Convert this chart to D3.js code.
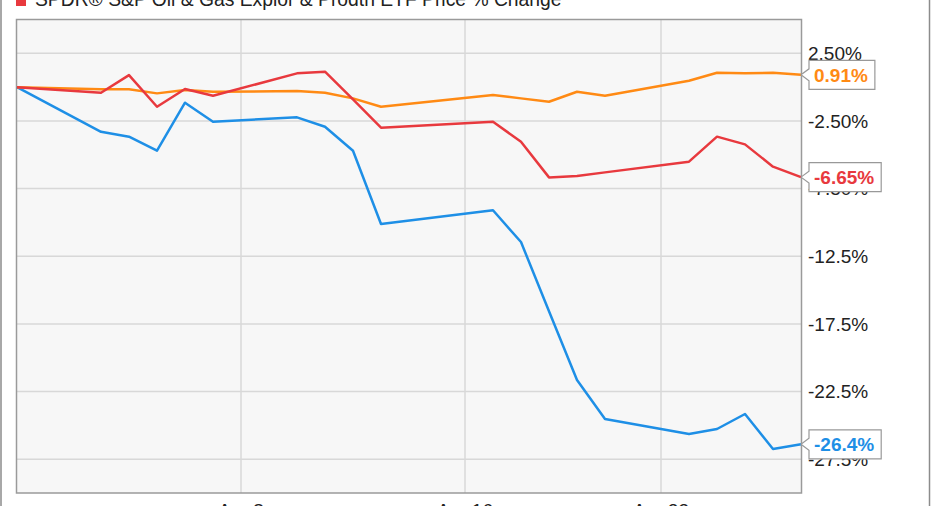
<!DOCTYPE html>
<html>
<head>
<meta charset="utf-8">
<script src="https://cdn.jsdelivr.net/npm/d3@7"></script>
<style>
html,body{margin:0;padding:0;background:#fff;overflow:hidden;}
svg{display:block;}
text{font-family:"Liberation Sans",Arial,sans-serif;}
</style>
</head>
<body>
<svg id="chart" width="931" height="506"></svg>
<script>
// ---- data ----
const dates = ["2017-03-31","2017-04-03","2017-04-04","2017-04-05","2017-04-06","2017-04-07",
  "2017-04-10","2017-04-11","2017-04-12","2017-04-13","2017-04-17","2017-04-18","2017-04-19",
  "2017-04-20","2017-04-21","2017-04-24","2017-04-25","2017-04-26","2017-04-27","2017-04-28"];
const stockValues = [0, -3.30, -3.66, -4.70, -1.15, -2.56, -2.23, -2.93, -4.70, -10.12,
  -9.10, -11.45, -16.56, -21.65, -24.53, -25.64, -25.27, -24.16, -26.75, -26.4];
const sp500Values = [0, -0.16, -0.16, -0.46, -0.21, -0.34, -0.29, -0.41, -0.83, -1.45,
  -0.58, -0.83, -1.08, -0.34, -0.64, 0.47, 1.06, 1.02, 1.06, 0.91];
const xopValues = [0, -0.41, 0.89, -1.45, -0.14, -0.64, 1.02, 1.14, -0.90, -3.00,
  -2.56, -4.03, -6.67, -6.57, -6.30, -5.51, -3.66, -4.23, -5.88, -6.65];
const seriesNames = ["Stock Price % Change", "S&P 500 Price % Change", "SPDR® S&P Oil & Gas Explor & Prodtn ETF Price % Change"];
const seriesColors = ["#1e8fe6", "#ff8a14", "#e8393e"];
const endLabels = ["-26.4%", "0.91%", "-6.65%"];
const yTicks = [2.5, -2.5, -7.5, -12.5, -17.5, -22.5, -27.5];
const yTickLabels = ["2.50%", "-2.50%", "-7.50%", "-12.5%", "-17.5%", "-22.5%", "-27.5%"];
const xTicks = ["2017-04-08", "2017-04-16", "2017-04-23"];
const xTickLabels = ["Apr 8", "Apr 16", "Apr 23"];
const legendLabel = seriesNames[2];

// ---- setup ----
const parse = d3.timeParse("%Y-%m-%d");
const svg = d3.select("#chart");
const L = 16.5, R = 801.5, T = 19.5, B = 493;
const x = d3.scaleTime().domain([parse(dates[0]), parse(dates[dates.length-1])]).range([17, 801]);
const y = d3.scaleLinear().domain([-30, 5]).range([B, T]);

// outer frame
svg.append("rect").attr("x", 1).attr("y", -20).attr("width", 928.5).attr("height", 560)
  .attr("fill", "none").attr("stroke", "#8c8c8c").attr("stroke-width", 1.5);

// plot background
svg.append("rect").attr("x", L).attr("y", T).attr("width", R - L).attr("height", B - T)
  .attr("fill", "#f7f7f7");

// grid
svg.append("g").selectAll("line").data(yTicks).join("line")
  .attr("x1", L).attr("x2", R).attr("y1", d => y(d)).attr("y2", d => y(d))
  .attr("stroke", "#d8d8d8").attr("stroke-width", 1.5);
svg.append("g").selectAll("line").data(xTicks).join("line")
  .attr("x1", d => x(parse(d))).attr("x2", d => x(parse(d))).attr("y1", T).attr("y2", B)
  .attr("stroke", "#d8d8d8").attr("stroke-width", 1.5);

// plot border
svg.append("rect").attr("x", L).attr("y", T).attr("width", R - L).attr("height", B - T)
  .attr("fill", "none").attr("stroke", "#9a9a9a").attr("stroke-width", 1.5);

// y labels
svg.append("g").selectAll("text").data(yTicks).join("text")
  .attr("x", 808).attr("y", d => y(d)).attr("dy", "0.36em")
  .attr("font-size", 19).attr("fill", "#222")
  .text((d, i) => yTickLabels[i]);

// x labels
svg.append("g").selectAll("text").data(xTicks).join("text")
  .attr("x", d => x(parse(d))).attr("y", 517).attr("text-anchor", "middle")
  .attr("font-size", 19).attr("fill", "#222")
  .text((d, i) => xTickLabels[i]);

// lines
const allSeries = [stockValues, sp500Values, xopValues];
const line = d3.line().x((d, i) => x(parse(dates[i]))).y(d => y(d));
allSeries.forEach((vals, k) => {
  svg.append("path").datum(vals).attr("d", line)
    .attr("fill", "none").attr("stroke", seriesColors[k]).attr("stroke-width", 2.5)
    .attr("stroke-linejoin", "round");
});

// end labels
allSeries.forEach((vals, k) => {
  const v = vals[vals.length - 1];
  const cy = y(v);
  const g = svg.append("g");
  const t = g.append("text").attr("x", 814).attr("y", cy).attr("dy", "0.36em")
    .attr("font-size", 19).attr("font-weight", "bold").attr("fill", seriesColors[k])
    .text(endLabels[k]);
  const w = t.node().getComputedTextLength();
  const bx = 809, bw = w + 12, h = 29, tip = x(parse(dates[dates.length - 1]));
  g.insert("path", "text")
    .attr("d", `M${tip},${cy} L${bx},${cy - 6} L${bx},${cy - h/2} L${bx + bw},${cy - h/2} L${bx + bw},${cy + h/2} L${bx},${cy + h/2} L${bx},${cy + 6} Z`)
    .attr("fill", "#fff").attr("stroke", "#999").attr("stroke-width", 1.2);
});

// legend (last visible entry)
svg.append("rect").attr("x", 16).attr("y", -6).attr("width", 10).attr("height", 12)
  .attr("fill", seriesColors[2]);
const lt = svg.append("text").attr("x", 35).attr("y", 6).attr("font-size", 19).attr("fill", "#222")
  .text(legendLabel);
const lw = lt.node().getComputedTextLength();
lt.attr("font-size", 19 * 527 / lw);
</script>
</body>
</html>
